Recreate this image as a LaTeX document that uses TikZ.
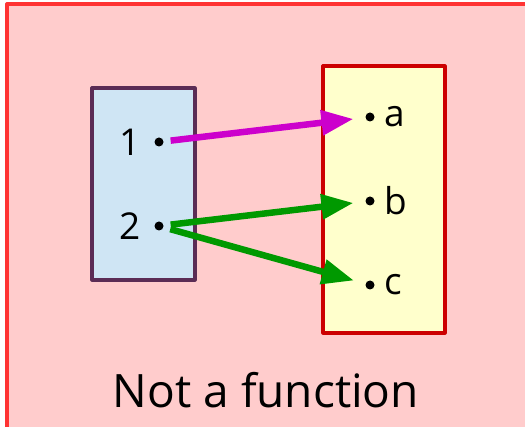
\documentclass[tikz,border=0pt]{standalone}
\usepackage{fontspec}
\setmainfont{Open Sans}
\definecolor{framered}{HTML}{FF3333}
\definecolor{framebg}{HTML}{FFCCCC}
\definecolor{domfill}{HTML}{CFE5F4}
\definecolor{domline}{HTML}{5B2C55}
\definecolor{codfill}{HTML}{FFFFCC}
\definecolor{codline}{HTML}{CC0000}
\definecolor{mapmag}{HTML}{CC00CC}
\definecolor{mapgreen}{HTML}{009900}
\usetikzlibrary{arrows.meta,positioning}

\begin{document}
\begin{tikzpicture}[x=1pt,y=1pt,font=\fontsize{37}{40}\selectfont,
  setbox/.style={line width=3.2pt,line join=round},
  pt/.style={circle,fill=black,inner sep=0pt,minimum size=9pt},
  lab/.style={inner sep=0pt},
  maparrow/.style={line width=6.5pt,-{Triangle[length=32pt,width=24pt]},shorten <=7pt,shorten >=12pt}]
\useasboundingbox (0,0) rectangle (525,426);
% outer frame, cut off at the right and bottom
\begin{scope}
  \clip (0,0) rectangle (525,426);
  \draw[setbox,draw=framered,fill=framebg] (7,422) rectangle (540,-20);
\end{scope}
% the two sets
\draw[setbox,draw=domline,fill=domfill] (92,146) rectangle (195,338);
\draw[setbox,draw=codline,fill=codfill] (323,93) rectangle (445,360);
% elements of the domain
\node[pt] (one) at (159,284) {};
\node[pt] (two) at (159,200) {};
\node[lab,left=13pt of one] {1};
\node[lab,left=13pt of two] {2};
% elements of the codomain
\foreach \n/\y in {a/309,b/225,c/141}{
  \node[pt] (\n) at (370,\y) {};
  \node[lab,right=10pt of \n] {\n};}
% the relation
\draw[maparrow,mapmag] (one) -- (a);
\draw[maparrow,mapgreen] (two) -- (b);
\draw[maparrow,mapgreen] (two) -- (c);
\node[anchor=base,inner sep=0pt,font=\fontsize{46}{50}\selectfont] (title) at (266,19) {Not a function};
\end{tikzpicture}
\end{document}
